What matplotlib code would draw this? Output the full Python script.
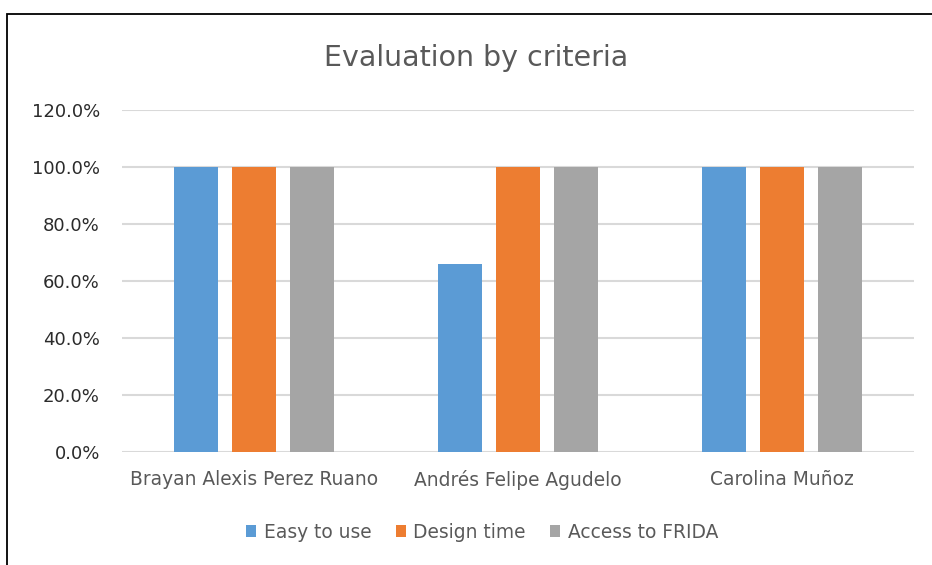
import matplotlib
matplotlib.use("Agg")
import matplotlib.pyplot as plt
import numpy as np
from matplotlib.patches import Rectangle, Patch

categories = ["Brayan Alexis Perez Ruano", "Andrés Felipe Agudelo", "Carolina Muñoz"]
series_names = ["Easy to use", "Design time", "Access to FRIDA"]
easy_to_use = [1.00, 0.66, 1.00]
design_time = [1.00, 1.00, 1.00]
access_frida = [1.00, 1.00, 1.00]
yticks = [0.0, 0.2, 0.4, 0.6, 0.8, 1.0, 1.2]

colors = ["#5b9bd5", "#ed7d31", "#a5a5a5"]
text_color = "#595959"

plt.rcParams['font.family'] = ['DejaVu Sans']

fig = plt.figure(figsize=(9.32, 5.65), dpi=100)
fig.patch.set_facecolor("white")
ax = fig.add_axes([122/932, 1-452/565, (914-122)/932, (452-110)/565])

x = np.arange(len(categories))
width = 0.167
step = 0.22
for i, (vals, name) in enumerate(zip([easy_to_use, design_time, access_frida], series_names)):
    ax.bar(x + (i-1)*step, vals, width, color=colors[i], label=name, zorder=3)

ax.set_xlim(-0.5, 2.5)
ax.set_ylim(0, 1.2)
ax.set_yticks(yticks)
ax.set_yticklabels([f"{v*100:.1f}%" for v in yticks], fontsize=13, color="#2b2b2b")
ax.set_xticks(x)
ax.set_xticklabels(categories, fontsize=13.4, color=text_color)
ax.tick_params(axis='both', length=0)
ax.tick_params(axis='y', pad=16)
ax.tick_params(axis='x', pad=13)
ax.grid(axis='y', color="#d9d9d9", linewidth=1.5, zorder=0)
for s in ax.spines.values():
    s.set_visible(False)

fig.text(476/932, 1-58/565, "Evaluation by criteria", ha='center', va='center',
         fontsize=20.5, color=text_color)

handles = [Patch(facecolor=c, edgecolor='none') for c in colors]
fig.legend(handles, series_names, loc='center', bbox_to_anchor=(482/932, 1-532/565),
           ncol=3, frameon=False, fontsize=13.4, labelcolor=text_color,
           handlelength=0.55, handleheight=0.55, handletextpad=0.4, columnspacing=1.3)

fig.patches.append(Rectangle((7/932, -0.1), 1.2, (1-14/565)+0.1, transform=fig.transFigure,
                             fill=False, edgecolor='black', linewidth=1.3))

fig.savefig("out.png", dpi=100)
